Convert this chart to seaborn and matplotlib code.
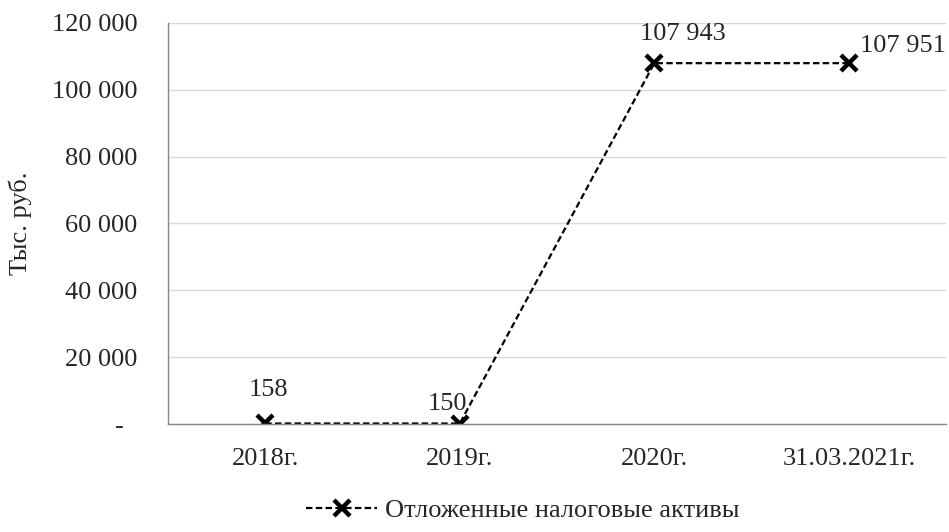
import pandas as pd
import matplotlib.pyplot as plt
import matplotlib.ticker as mticker
import seaborn as sns

# данные с графика
periods = ['2018г.', '2019г.', '2020г.', '31.03.2021г.']
values = [158, 150, 107943, 107951]
series_name = 'Отложенные налоговые активы'
y_ticks = [0, 20000, 40000, 60000, 80000, 100000, 120000]

df = pd.DataFrame({'period': periods, 'value': values})

sns.set_theme(style='white')
plt.rcParams['font.family'] = ['Liberation Serif', 'DejaVu Serif']
FS = 19

fig = plt.figure(figsize=(9.49, 5.32), dpi=100)
ax = fig.add_axes([0.177, 0.203, 0.820, 0.754])

sns.lineplot(data=df, x='period', y='value', ax=ax, color='black',
             marker='x', markersize=11, markeredgewidth=3.2,
             markeredgecolor='black', linewidth=1.6,
             label=series_name, sort=False)
ax.lines[0].set_dashes((2.9, 1.5))

ax.set_xlim(-0.5, 3.5)
ax.set_ylim(0, 120000)
ax.set_yticks(y_ticks)


def fmt(v, pos=None):
    if v == 0:
        return '-'
    return f'{int(v):,}'.replace(',', ' ')


def fmt_axis(v, pos=None):
    # ноль в финансовом формате: прочерк со сдвигом влево
    if v == 0:
        return '-  '
    return fmt(v)


ax.yaxis.set_major_formatter(mticker.FuncFormatter(fmt_axis))
ax.grid(axis='y', color='#d9d9d9', linewidth=1)
ax.set_axisbelow(True)

# засечки между категориями
ax.set_xticks([-0.5, 0.5, 1.5, 2.5, 3.5])
ax.set_xticklabels([])
ax.set_xticks(range(len(periods)), minor=True)
ax.set_xticklabels(periods, minor=True, fontsize=FS)
ax.tick_params(axis='x', which='major', direction='out', length=6, color='#868686', width=1)
ax.tick_params(axis='x', which='minor', length=0, pad=17)
ax.tick_params(axis='y', direction='out', length=6, color='#868686', width=1, labelsize=FS, pad=16)

for s in ['top', 'right']:
    ax.spines[s].set_visible(False)
for s in ['left', 'bottom']:
    ax.spines[s].set_color('#868686')
    ax.spines[s].set_linewidth(1)

ax.set_xlabel('')
ax.set_ylabel('Тыс. руб.', fontsize=FS, labelpad=14)

# подписи значений (смещения в пунктах)
offsets = [(2, 20, 'center'), (5, 10, 'right'), (-10, 17, 'left'), (8, 8, 'left')]
for i, (v, (dx, dy, ha)) in enumerate(zip(values, offsets)):
    ax.annotate(fmt(v), (i, v), xytext=(dx, dy), textcoords='offset points',
                ha=ha, va='baseline', fontsize=FS)

ax.get_legend().remove()
h, l = ax.get_legend_handles_labels()
fig.legend(h, l, loc='center', bbox_to_anchor=(0.551, 0.041), frameon=False,
           fontsize=FS, handlelength=2.7, handletextpad=0.3)

fig.savefig('out.png', dpi=100)
